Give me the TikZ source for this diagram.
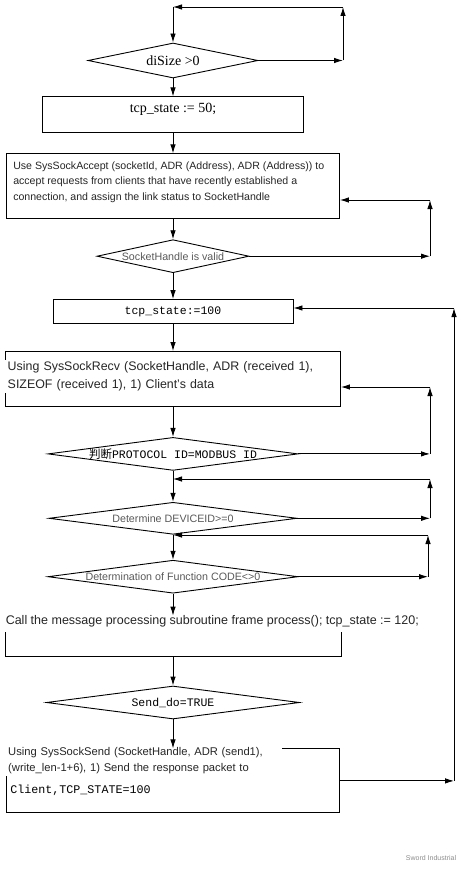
\documentclass[tikz,border=0pt]{standalone}
\usepackage{fontspec}
\setmainfont{Liberation Serif}
\setsansfont{Liberation Sans}
\setmonofont{Liberation Mono}
\newfontfamily\cjkfont{Noto Sans CJK SC}
\usetikzlibrary{arrows.meta, positioning, shapes.geometric}

\begin{document}
\begin{tikzpicture}[
    x=1pt, y=-1pt,
    node distance=20pt,
    box/.style={draw, rectangle, line width=0.9pt, inner sep=0pt},
    decision/.style={draw, diamond, line width=0.9pt, inner sep=0pt},
    arrow/.style={-{Latex[length=9pt, width=5.5pt]}, line width=0.9pt},
    serif/.style={font=\fontsize{14}{16}\selectfont},
    code/.style={font=\ttfamily\fontsize{11.5}{14}\selectfont},
    txt/.style 2 args={font=\sffamily\fontsize{#1}{#2}\selectfont, text=black!85},
    grey/.style={font=\sffamily\fontsize{10.7}{12}\selectfont, text=black!65}
]
\useasboundingbox (0,0) rectangle (465,875);

% Eingang und erste Abfrage
\coordinate (top) at (173,7);
\node[decision, minimum width=170pt, minimum height=35pt,
      label={[serif]center:{diSize >0}}] (size) at (173,60.5) {};
\node[box, minimum width=261pt, minimum height=36pt, below=18pt of size,
      label={[serif, anchor=north, yshift=-3pt]north:{tcp\_state := 50;}}] (state50) {};
\node[box, minimum width=333pt, minimum height=65pt, below=20pt of state50,
      label={[txt={10.6}{15.5}, anchor=north west, align=left, inner sep=0pt, xshift=7pt, yshift=-8pt]north west:{Use SysSockAccept (socketId, ADR (Address), ADR (Address)) to\\accept requests from clients that have recently established a\\connection, and assign the link status to SocketHandle}}] (accept) {};
\node[decision, minimum width=152pt, minimum height=33pt, below=20pt of accept,
      label={[grey]center:{SocketHandle is valid}}] (valid) {};

% Empfangen und Pruefen
\node[box, minimum width=240pt, minimum height=24pt, below=26pt of valid,
      label={[code]center:{tcp\_state:=100}}] (state100) {};
\node[box, minimum width=335pt, minimum height=55pt, below=27pt of state100,
      label={[txt={12.4}{18}, anchor=north west, align=left, fill=white, text width=320pt, inner xsep=3.5pt, inner ysep=2pt, xshift=-1pt, yshift=-8.5pt]north west:{Using SysSockRecv (SocketHandle, ADR (received 1),\\SIZEOF (received 1), 1) Client's data}}] (recv) {};
\node[decision, minimum width=250pt, minimum height=33pt, below=30pt of recv,
      label={[code]center:{{\cjkfont 判断}PROTOCOL ID=MODBUS ID}}] (protocol) {};
\node[decision, minimum width=248pt, minimum height=32pt, below=31pt of protocol,
      label={[grey]center:{Determine DEVICEID>=0}}] (device) {};
\node[decision, minimum width=250pt, minimum height=33pt, below=25pt of device,
      label={[grey]center:{Determination of Function CODE<>0}}] (funccode) {};

% Verarbeiten und Senden
\node[box, minimum width=336pt, minimum height=40pt, below=22pt of funccode,
      label={[txt={12.5}{15}, anchor=north west, fill=white, inner xsep=2pt, inner ysep=4pt, xshift=-1pt, yshift=4pt]north west:{Call the message processing subroutine frame process(); tcp\_state := 120;}}] (frame) {};
\node[decision, minimum width=253pt, minimum height=33pt, below=29pt of frame,
      label={[code]center:{Send\_do=TRUE}}] (senddo) {};
\node[box, minimum width=333pt, minimum height=64pt, below=29pt of senddo,
      label={[txt={11.2}{15.5}, anchor=north west, align=left, fill=white, text width=272pt, inner xsep=2pt, inner ysep=2pt, xshift=0pt, yshift=3pt]north west:{Using SysSockSend (SocketHandle, ADR (send1),\\(write\_len-1+6), 1) Send the response packet to}},
      label={[code, font=\ttfamily\fontsize{11.7}{14}\selectfont, anchor=west, inner sep=0pt, xshift=4pt, yshift=-9pt]west:{Client,TCP\_STATE=100}}] (send) {};

\node[font=\sffamily\fontsize{7}{8}\selectfont, text=black!45] (mark) at (431,858) {Sword Industrial};

% Hauptfluss
\draw[arrow] (top) -- (size.north);
\draw[arrow] (size) -- (state50);
\draw[arrow] (state50) -- (accept);
\draw[arrow] (accept) -- (valid);
\draw[arrow] (valid) -- (state100);
\draw[arrow] (state100) -- (recv);
\draw[arrow] (recv) -- (protocol);
\draw[arrow] (protocol) -- (device);
\draw[arrow] (device) -- (funccode);
\draw[arrow] (funccode) -- (frame);
\draw[arrow] (frame) -- (senddo);
\draw[arrow] (senddo) -- (send);

% Rueckspruenge
\coordinate (railT) at (343,7);
\draw[arrow] (size.east) -- (size.east -| railT);
\draw[arrow] (size.east -| railT) -- (railT);
\draw[arrow] (railT) -- (top);

\coordinate (railB) at (430,200);
\draw[arrow] (valid.east) -- (valid.east -| railB);
\draw[arrow] (valid.east -| railB) -- (railB);
\draw[arrow] (railB) -- (accept.east |- railB);

\coordinate (railD) at (430,387);
\draw[arrow] (protocol.east) -- (protocol.east -| railD);
\draw[arrow] (protocol.east -| railD) -- (railD);
\draw[arrow] (railD) -- (recv.east |- railD);

\coordinate (railE) at (430,479);
\draw[arrow] (device.east) -- (device.east -| railE);
\draw[arrow] (device.east -| railE) -- (railE);
\draw[arrow] (railE) -- (protocol.south |- railE);

\coordinate (railF) at (428,535);
\draw[arrow] (funccode.east) -- (funccode.east -| railF);
\draw[arrow] (funccode.east -| railF) -- (railF);
\draw[arrow] (railF) -- (device.south |- railF);

\coordinate (railC) at (454,308);
\draw[arrow] (send.east) -- (send.east -| railC);
\draw[arrow] (send.east -| railC) -- (railC);
\draw[arrow] (railC) -- (state100.east |- railC);

\end{tikzpicture}
\end{document}
